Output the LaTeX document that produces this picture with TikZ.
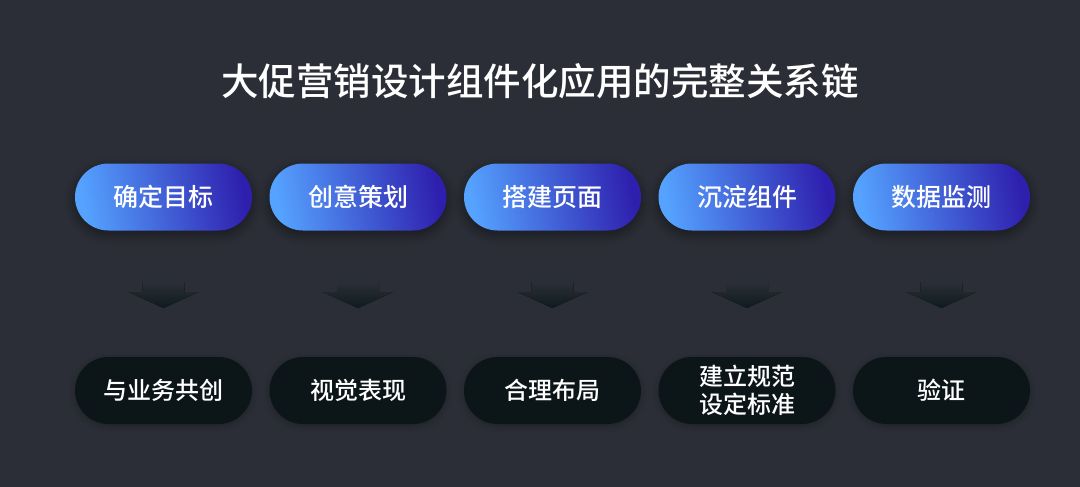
\documentclass[tikz,border=0pt]{standalone}
\usepackage{fontspec}
\setmainfont{Noto Sans CJK SC}
\newfontfamily\cjk{Noto Sans CJK SC}
\newfontfamily\cjkb{Noto Sans CJK SC Medium}
\usetikzlibrary{shadows.blur}
\definecolor{bg}{HTML}{2B2E36}
\definecolor{gl}{HTML}{55A2FF}
\definecolor{gr}{HTML}{2E1FAE}
\definecolor{dk}{HTML}{0C1619}
\definecolor{ar1}{HTML}{2B2E36}
\definecolor{ar2}{HTML}{0E1B1F}
\tikzset{
  toppill/.style={rounded corners=33.5pt, minimum width=177pt, minimum height=67pt, inner sep=0pt,
    left color=gl, right color=gr, shading angle=100, text=white, font=\cjkb\fontsize{25}{27}\selectfont,
    blur shadow={shadow xshift=0pt, shadow yshift=-4pt, shadow blur radius=10pt, shadow opacity=45, shadow blur steps=10}},
  botpill/.style={rounded corners=33.5pt, minimum width=177pt, minimum height=67pt, inner sep=0pt,
    fill=dk, text=white, font=\cjkb\fontsize{24}{28}\selectfont, align=center,
    blur shadow={shadow xshift=0pt, shadow yshift=-2pt, shadow blur radius=6pt, shadow opacity=25, shadow blur steps=8}},
  arrowshape/.style={top color=ar1, bottom color=ar2, draw=none},
}
\begin{document}
\begin{tikzpicture}[x=1pt,y=-1pt]
\fill[bg] (0,0) rectangle (1080,487);
\useasboundingbox (0,0) rectangle (1080,487);
\node[text=white, font=\cjkb\fontsize{37.5}{40}\selectfont] (title) at (540,81) {大促营销设计组件化应用的完整关系链};
\foreach \i/\x/\t/\b in {1/163.5/确定目标/与业务共创, 2/358/创意策划/视觉表现, 3/552.5/搭建页面/合理布局, 4/747/沉淀组件/{建立规范\\设定标准}, 5/941.5/数据监测/验证}{
  \node[toppill] (t\i) at (\x,197) {\t};
  \node[botpill] (b\i) at (\x,390.5) {\b};
  \coordinate (a\i) at (\x,282);
  \fill[arrowshape] ($(a\i)+(-21,0)$) -- ($(a\i)+(21,0)$) -- ($(a\i)+(21,10)$) -- ($(a\i)+(35,10)$) -- ($(a\i)+(0,26)$) -- ($(a\i)+(-35,10)$) -- ($(a\i)+(-21,10)$) -- cycle;
}
\end{tikzpicture}
\end{document}
